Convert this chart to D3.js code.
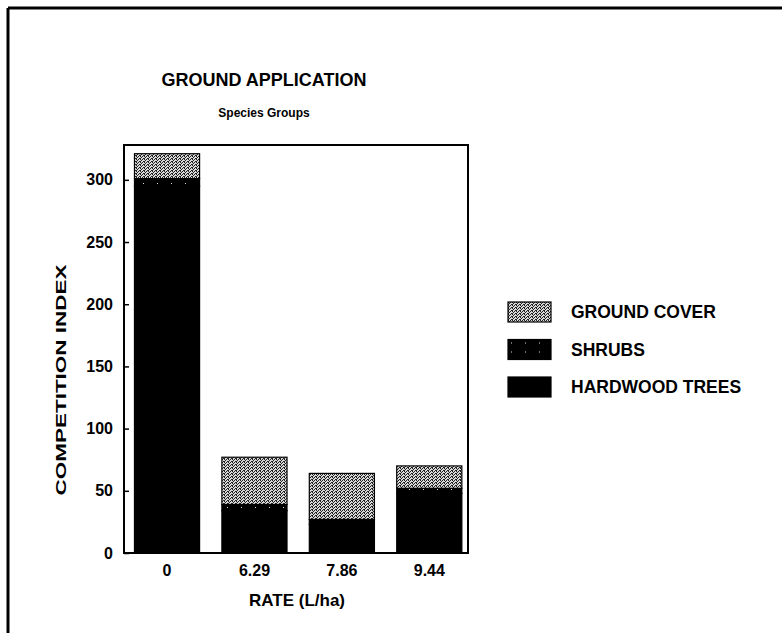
<!DOCTYPE html>
<html>
<head>
<meta charset="utf-8">
<script src="https://cdn.jsdelivr.net/npm/d3@7"></script>
<style>
  body { margin: 0; background: #fff; }
  svg text { font-family: "Liberation Sans", Arial, sans-serif; font-weight: bold; fill: #000; }
</style>
</head>
<body>
<div id="chart"></div>
<script>
// data
const rates = ["0", "6.29", "7.86", "9.44"];
const hardwoodTrees = [295, 34, 23, 48];
const shrubs = [6, 5, 4, 4];
const groundCover = [20, 38, 37, 18];
const seriesNames = ["HARDWOOD TREES", "SHRUBS", "GROUND COVER"];
const yTicks = [0, 50, 100, 150, 200, 250, 300];

const W = 782, H = 633;
const plot = { left: 124, right: 468, top: 145, bottom: 553 };

const svg = d3.select("#chart").append("svg")
    .attr("width", W).attr("height", H);

svg.append("rect").attr("width", W).attr("height", H).attr("fill", "#fff");

// fill patterns
const defs = svg.append("defs");
const gc = defs.append("pattern").attr("id", "pat-gc")
    .attr("patternUnits", "userSpaceOnUse").attr("width", 4).attr("height", 3);
gc.append("rect").attr("width", 4).attr("height", 3).attr("fill", "#d8d8d8");
[[0, 0], [2, 0], [1, 1], [3, 2], [0, 2]].forEach(([x, y]) => {
    gc.append("rect").attr("x", x).attr("y", y).attr("width", 1).attr("height", 1).attr("fill", "#222");
});
const sh = defs.append("pattern").attr("id", "pat-sh")
    .attr("patternUnits", "userSpaceOnUse").attr("width", 14).attr("height", 9);
sh.append("rect").attr("width", 14).attr("height", 9).attr("fill", "#000");
sh.append("rect").attr("x", 3).attr("y", 3).attr("width", 1).attr("height", 1).attr("fill", "#ddd");

const fills = { "HARDWOOD TREES": "#000", "SHRUBS": "url(#pat-sh)", "GROUND COVER": "url(#pat-gc)" };

// page border (top + left, as in the scan)
svg.append("line").attr("x1", 8).attr("x2", W).attr("y1", 8).attr("y2", 8)
    .attr("stroke", "#000").attr("stroke-width", 3);
svg.append("line").attr("x1", 8).attr("x2", 8).attr("y1", 8).attr("y2", H)
    .attr("stroke", "#000").attr("stroke-width", 3);

// titles
svg.append("text").attr("x", 264).attr("y", 86).attr("text-anchor", "middle")
    .style("font-size", "18px").text("GROUND APPLICATION");
svg.append("text").attr("x", 264).attr("y", 117).attr("text-anchor", "middle")
    .style("font-size", "12px").text("Species Groups");

// scales
const x = d3.scaleBand().domain(rates)
    .range([plot.left, plot.right]).paddingInner(0.255).paddingOuter(0.095).align(0.63);
const y = d3.scaleLinear().domain([0, 328]).range([plot.bottom, plot.top]);

const rows = rates.map((r, i) => ({
    rate: r,
    "HARDWOOD TREES": hardwoodTrees[i],
    "SHRUBS": shrubs[i],
    "GROUND COVER": groundCover[i]
}));
const stacked = d3.stack().keys(seriesNames)(rows);

// bars
stacked.forEach(layer => {
    svg.append("g").selectAll("rect")
        .data(layer)
        .join("rect")
        .attr("x", d => x(d.data.rate))
        .attr("width", x.bandwidth())
        .attr("y", d => y(d[1]))
        .attr("height", d => y(d[0]) - y(d[1]))
        .attr("fill", fills[layer.key])
        .attr("stroke", "#000")
        .attr("stroke-width", 1.2);
});

// frame
svg.append("rect")
    .attr("x", plot.left).attr("y", plot.top)
    .attr("width", plot.right - plot.left).attr("height", plot.bottom - plot.top)
    .attr("fill", "none").attr("stroke", "#000").attr("stroke-width", 2);

// y axis, ticks pointing inward
const yAxis = svg.append("g").attr("transform", `translate(${plot.left},0)`)
    .call(d3.axisLeft(y).tickValues(yTicks).tickSizeInner(-5).tickSizeOuter(0).tickPadding(11));
yAxis.select(".domain").remove();
yAxis.selectAll("line").attr("stroke", "#000").attr("stroke-width", 1.5);
yAxis.selectAll("text").style("font-size", "16px").attr("font-family", null);

// x axis labels
const xAxis = svg.append("g").attr("transform", `translate(0,${plot.bottom})`)
    .call(d3.axisBottom(x).tickSize(0).tickPadding(12));
xAxis.select(".domain").remove();
xAxis.selectAll("text").style("font-size", "16px").attr("font-family", null);

// axis titles
svg.append("text").attr("x", 297).attr("y", 606).attr("text-anchor", "middle")
    .style("font-size", "17px").text("RATE (L/ha)");
// the scanned y title is drawn with tall, narrow letters
svg.append("text")
    .attr("transform", `translate(66,380) rotate(-90) scale(1.5,1)`)
    .attr("text-anchor", "middle")
    .style("font-size", "15px").text("COMPETITION INDEX");

// legend
const legendItems = ["GROUND COVER", "SHRUBS", "HARDWOOD TREES"];
const leg = svg.append("g").attr("transform", "translate(508,302)");
legendItems.forEach((k, i) => {
    const g = leg.append("g").attr("transform", `translate(0,${i * 37.5})`);
    g.append("rect").attr("width", 43).attr("height", 20)
        .attr("fill", fills[k]).attr("stroke", "#000").attr("stroke-width", 1.2);
    g.append("text").attr("x", 63).attr("y", 16)
        .style("font-size", "17.5px").text(k);
});
</script>
</body>
</html>
